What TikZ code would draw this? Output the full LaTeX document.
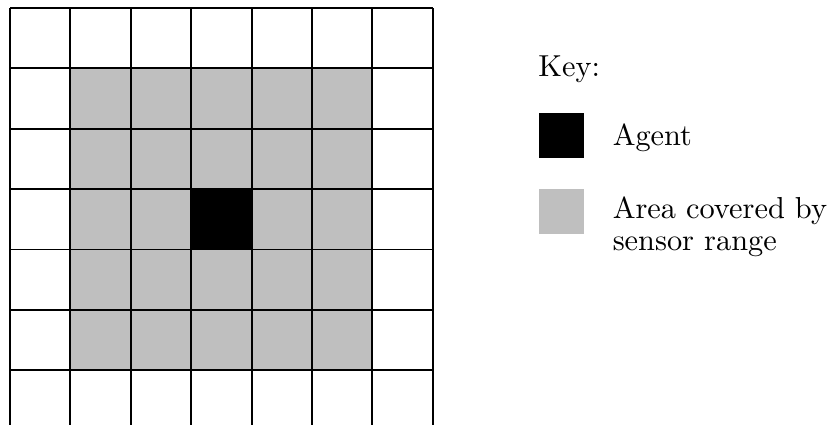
\documentclass[tikz,border=0pt]{standalone}
\usetikzlibrary{positioning}

\tikzset{
  keybox/.style={draw=none, minimum size=0.75cm, inner sep=0pt},
  keytext/.style={anchor=base west, inner sep=0pt, align=left, scale=1.43}
}

\begin{document}
\begin{tikzpicture}[every node/.style={font=\fontsize{10}{10.5}\selectfont}]
    \clip (-0.166,0.132) rectangle (13.66,-6.90);

    % sensor range and agent
    \fill[black!25] (1,-1) rectangle (6,-6);
    \fill[black] (3,-3) rectangle (4,-4);
    \draw[line width=0.9pt, black] (0,-7) grid (7,0);

    % key
    \node[keytext] (key) at (8.74,-1.13) {Key:};
    \node[keybox, fill=black] (agentbox) at (9.13,-2.11) {};
    \node[keybox, fill=black!25] (areabox) at (9.13,-3.37) {};
    \node[keytext] (agentlabel) at (9.97,-2.27) {Agent};
    \node[keytext] (arealabel) at (9.97,-4.01) {Area covered by\\sensor range};
\end{tikzpicture}
\end{document}
